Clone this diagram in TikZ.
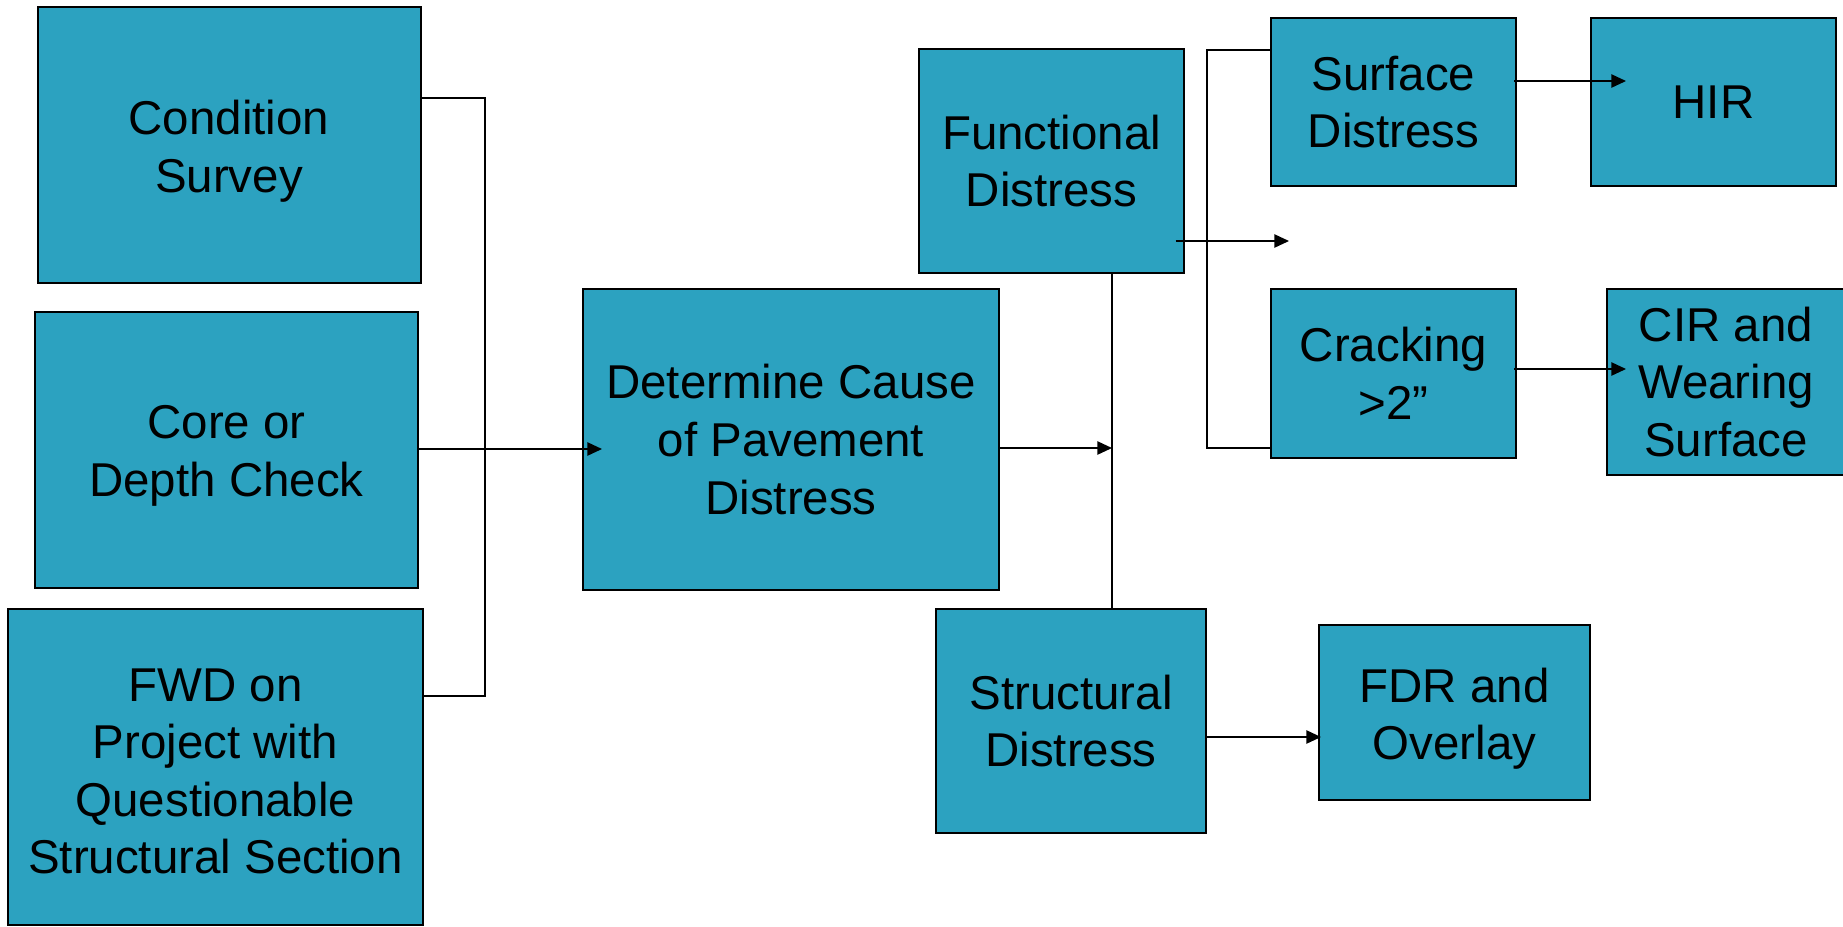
\documentclass[tikz,border=0pt]{standalone}
\usepackage{fontspec}
\setmainfont{Liberation Sans}
\usetikzlibrary{arrows.meta}

\definecolor{boxfill}{RGB}{44,162,192}
\newcommand{\padtop}[1]{\rule{0pt}{#1}}

\tikzset{every picture/.style={line width=0.75pt}}
\tikzset{
  stepbox/.style={draw=black, line width=1.5pt, fill=boxfill, align=center, inner sep=0pt,
    font=\fontsize{35.6}{43.2}\selectfont},
  link/.style={draw=black, line width=1.1pt},
  arr/.style={link, -{Triangle[length=11pt,width=10pt]}}
}

\begin{document}
\begin{tikzpicture}[x=0.75pt,y=0.75pt,yscale=-1,xscale=1]
\useasboundingbox (0,0) rectangle (1843,926);

%Shape: Rectangle [id:cond]
\node [stepbox, minimum width=383*0.75pt, minimum height=276*0.75pt] (cond) at (229,145) {\padtop{35pt}Condition\\Survey};
%Shape: Rectangle [id:core]
\node [stepbox, minimum width=383*0.75pt, minimum height=276*0.75pt] (core) at (226.5,450) {\padtop{34pt}Core or\\Depth Check};
%Shape: Rectangle [id:fwd]
\node [stepbox, minimum width=415*0.75pt, minimum height=316*0.75pt] (fwd) at (215.5,767) {\padtop{31pt}FWD on\\Project with\\Questionable\\Structural Section};
%Shape: Rectangle [id:cause]
\node [stepbox, minimum width=416*0.75pt, minimum height=301*0.75pt] (cause) at (791,439.5) {Determine Cause\\of Pavement\\Distress};
%Shape: Rectangle [id:func]
\node [stepbox, minimum width=265*0.75pt, minimum height=224*0.75pt] (func) at (1051.5,161) {Functional\\Distress};
%Shape: Rectangle [id:struc]
\node [stepbox, minimum width=270*0.75pt, minimum height=224*0.75pt] (struc) at (1071,721) {Structural\\Distress};
%Shape: Rectangle [id:surf]
\node [stepbox, minimum width=245*0.75pt, minimum height=168*0.75pt] (surf) at (1393.5,102) {Surface\\Distress};
%Shape: Rectangle [id:crack]
\node [stepbox, minimum width=245*0.75pt, minimum height=169*0.75pt] (crack) at (1393.5,373.5) {Cracking\\>2”};
%Shape: Rectangle [id:hir]
\node [stepbox, minimum width=245*0.75pt, minimum height=168*0.75pt] (hir) at (1713.5,102) {HIR};
%Shape: Rectangle [id:cir]
\node [stepbox, minimum width=238*0.75pt, minimum height=186*0.75pt] (cir) at (1726,382) {CIR and\\Wearing\\Surface};
%Shape: Rectangle [id:fdr]
\node [stepbox, minimum width=271*0.75pt, minimum height=175*0.75pt] (fdr) at (1454.5,712.5) {\padtop{35pt}FDR and\\Overlay};

%Joints
\coordinate (jtop) at (485,98);
\coordinate (jmid) at (485,449);
\coordinate (jbot) at (485,696);
\coordinate (causein) at (602,449);
\coordinate (trunk) at (1112,448);
\coordinate (funcout) at (1289,241);
\coordinate (btop) at (1207,50);
\coordinate (bbot) at (1207,448);
\coordinate (hirin) at (1626,81);
\coordinate (cirin) at (1626,369);
\coordinate (fdrin) at (1321,737);

%Straight Lines
\draw [link] (cond.east |- jtop) -- (jtop) -- (jbot) -- (fwd.east |- jbot);
\draw [link] (core.east |- jmid) -- (jmid);
\draw [arr] ([xshift=-2pt]jmid) -- (causein);
\draw [arr] (cause.east |- trunk) -- (trunk);
\draw [link] (func.south -| trunk) -- (struc.north -| trunk);
\draw [arr] ([xshift=-7pt]func.east |- funcout) -- (funcout);
\draw [link] (surf.west |- btop) -- (btop) -- (bbot) -- (crack.west |- bbot);
\draw [arr] ([xshift=-2pt]surf.east |- hirin) -- (hirin);
\draw [arr] ([xshift=-2pt]crack.east |- cirin) -- (cirin);
\draw [arr] (struc.east |- fdrin) -- (fdrin);

\end{tikzpicture}
\end{document}
